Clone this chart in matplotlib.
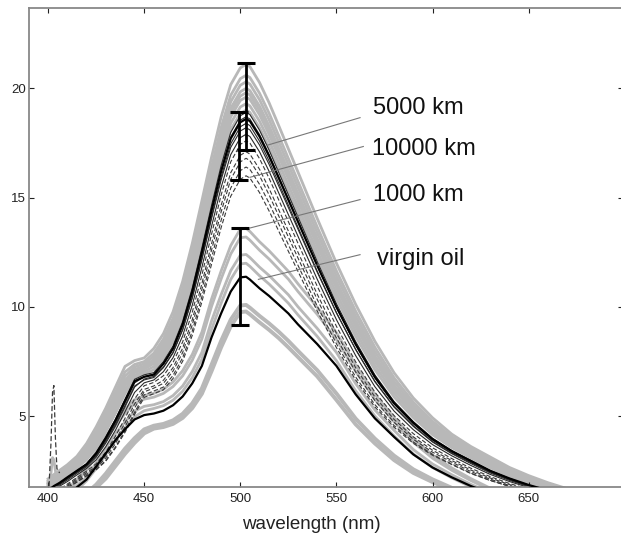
import numpy as np
import matplotlib
matplotlib.use("Agg")
import matplotlib.pyplot as plt

plt.rcParams['font.family'] = ['Liberation Sans', 'DejaVu Sans']

# ---- data ----
wl = np.array([400, 403, 406, 410, 415, 420, 425, 430, 435, 440, 445, 450, 455,
               460, 465, 470, 475, 480, 485, 490, 495, 500, 503, 505, 510, 515,
               520, 525, 530, 540, 550, 560, 570, 580, 590, 600, 610, 620, 630,
               640, 650, 660, 670])

# thick black curve of the aged group (peak ~18.6)
aged_mean = np.array([1.6, 1.8, 1.95, 2.2, 2.5, 2.8, 3.3, 4.0, 4.8, 5.7, 6.6, 6.8, 6.9,
                      7.4, 8.1, 9.2, 10.7, 12.5, 14.4, 16.2, 17.7, 18.45, 18.6, 18.5,
                      17.8, 16.9, 15.9, 14.9, 13.9, 11.9, 10.0, 8.3, 6.8, 5.6, 4.7,
                      3.95, 3.4, 2.95, 2.5, 2.15, 1.85, 1.6, 1.4])

# thick black curve of virgin oil (peak ~11.4)
virgin_mean = np.array([0.9, 1.0, 1.1, 1.25, 1.75, 2.1, 2.7, 3.3, 3.9, 4.4, 4.85, 5.05, 5.12,
                        5.25, 5.5, 5.9, 6.5, 7.3, 8.6, 9.7, 10.7, 11.35, 11.38, 11.25,
                        10.85, 10.5, 10.1, 9.7, 9.2, 8.3, 7.3, 6.0, 4.9, 4.05, 3.25,
                        2.65, 2.2, 1.8, 1.45, 1.2, 1.0, 0.9, 0.8])

# peak heights / relative widths of the individual spectra
gray_upper_peaks = [21.1, 20.6, 20.3, 20.0, 19.8, 19.6, 19.3, 19.0]
gray_upper_widths = [1.08, 1.07, 1.06, 1.05, 1.05, 1.04, 1.03, 1.02]
dark_solid_peaks = [18.9, 18.7, 18.4, 18.2, 17.9]
dark_solid_widths = [1.0, 0.99, 0.98, 0.99, 0.97]
dark_dashed_peaks = [17.6, 17.1, 16.8, 16.4, 16.0]
dark_dashed_widths = [0.95, 0.94, 0.93, 0.92, 0.92]
gray_lower_peaks = [13.6, 13.2, 12.4, 12.0, 10.1, 9.8]
gray_lower_widths = [1.03, 1.02, 1.0, 0.98, 0.92, 0.9]

# spike near 403 nm
spike_wl = [400.5, 401.5, 402.3, 403.0, 403.8, 404.6, 406.0]
spike_dark = [1.8, 3.8, 6.1, 6.4, 4.0, 2.6, 2.4]
spike_gray = [1.8, 2.4, 3.1, 3.0, 2.5, 2.2, 2.0]

# error bars
err_x = [503.0, 499.5, 500.0]
err_low = [17.17, 15.79, 9.16]
err_high = [21.18, 18.93, 13.63]

# labels
labels = ["5000 km", "10000 km", "1000 km", "virgin oil"]
label_x = [569, 568.4, 569, 571]
label_y = [18.81, 16.94, 14.83, 11.91]
leader_start = [(562.3, 18.66), (564.0, 17.34), (562.3, 14.91), (562.3, 12.39)]
leader_end = [(513.7, 17.39), (505.0, 15.93), (505.0, 13.61), (509.4, 11.26)]


def scaled(profile, peak, width, center, base):
    src = center + (wl - center) / width
    p = np.interp(src, wl, profile)
    return base + (p - base) * (peak - base) / (profile.max() - base)


fig = plt.figure(figsize=(6.21, 5.37), dpi=100)
ax = fig.add_axes([0.0459, 0.094, 0.957, 0.892])

gray = '#b8b8b8'
for pk, w in zip(gray_upper_peaks, gray_upper_widths):
    ax.plot(wl, scaled(aged_mean, pk, w, 503, 1.5), color=gray, lw=2.0, zorder=1)
for pk, w in zip(gray_lower_peaks, gray_lower_widths):
    ax.plot(wl, scaled(virgin_mean, pk, w, 501, 1.0), color=gray,
            lw=2.8 if pk < 11 else 2.0, zorder=1)
ax.plot(spike_wl, spike_gray, color=gray, lw=2.0, zorder=1)

for pk, w in zip(dark_solid_peaks, dark_solid_widths):
    ax.plot(wl, scaled(aged_mean, pk, w, 503, 1.7), color='#2a2a2a', lw=0.8, zorder=2)
for pk, w in zip(dark_dashed_peaks, dark_dashed_widths):
    ax.plot(wl, scaled(aged_mean, pk, w, 503, 1.7), color='#3a3a3a', lw=0.8,
            ls=(0, (4, 2)), zorder=2)
ax.plot(spike_wl, spike_dark, color='#3a3a3a', lw=0.9, ls=(0, (4, 2)), zorder=2)

ax.plot(wl, aged_mean, color='black', lw=1.6, zorder=3)
ax.plot(wl, virgin_mean, color='black', lw=1.6, zorder=3)

for x, lo, hi in zip(err_x, err_low, err_high):
    ax.errorbar([x], [(lo + hi) / 2], yerr=[[(hi - lo) / 2], [(hi - lo) / 2]],
                fmt='none', ecolor='black', elinewidth=2.0, capsize=6.5,
                capthick=2.2, zorder=4)

for (x0, y0), (x1, y1) in zip(leader_start, leader_end):
    ax.plot([x0, x1], [y0, y1], color='#777777', lw=0.8, zorder=4)
for t, x, y in zip(labels, label_x, label_y):
    ax.text(x, y, t, fontsize=17, color='#111111', ha='left', va='baseline', zorder=5)

ax.set_xlim(389.8, 699)
ax.set_ylim(1.78, 23.7)
ax.set_xticks([400, 450, 500, 550, 600, 650])
ax.set_yticks([5, 10, 15, 20])
ax.tick_params(direction='in', length=3.5, width=0.8, top=True, right=True,
               labelsize=9.5, colors='#222222', pad=5)
ax.tick_params(axis='y', pad=2)
for s in ax.spines.values():
    s.set_color('#888888')
    s.set_linewidth(1.3)

ax.set_xlabel('wavelength (nm)', fontsize=13.5, color='#222222')
ax.xaxis.set_label_coords(0.476, -0.062)

fig.savefig('out.png', dpi=100)
